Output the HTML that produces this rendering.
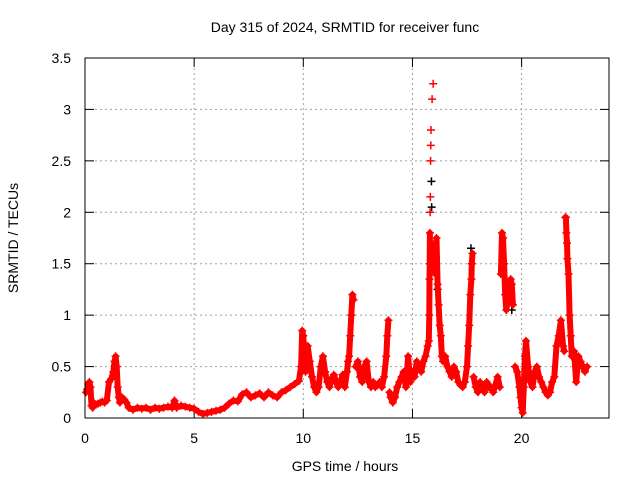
<!DOCTYPE html>
<html><head><meta charset="utf-8"><style>
body{margin:0;background:#fff}
svg{display:block;font-family:"Liberation Sans",sans-serif;font-size:14px}
</style></head><body>
<svg id="chart" width="640" height="480" viewBox="0 0 640 480">
<text x="345" y="32" text-anchor="middle">Day 315 of 2024, SRMTID for receiver func</text>
<text x="18" y="238" text-anchor="middle" transform="rotate(-90 18 238)">SRMTID / TECUs</text>
<text x="345" y="471" text-anchor="middle">GPS time / hours</text>
<g id="grid"></g>
<g id="ticks"></g>
<g id="black-series"></g>
<g id="red-series"></g>
<rect x="85" y="58" width="524" height="360" fill="none" stroke="#000" stroke-width="1"/>
</svg>
<script>
const xTicks=[0,5,10,15,20];
const yTicks=[0,0.5,1,1.5,2,2.5,3,3.5];
const yTickLabels=["0","0.5","1","1.5","2","2.5","3","3.5"];
const redT=[0.05,0.1,0.15,0.2,0.25,0.3,0.35,0.4,0.5,0.6,0.7,0.8,0.9,1.0,1.1,1.2,1.3,1.35,1.4,1.45,1.5,1.55,1.6,1.7,1.8,1.9,2.0,2.2,2.4,2.6,2.8,3.0,3.2,3.4,3.6,3.8,4.0,4.1,4.2,4.4,4.6,4.8,5.0,5.2,5.4,5.6,5.8,6.0,6.2,6.4,6.6,6.8,7.0,7.2,7.4,7.6,7.8,8.0,8.2,8.4,8.6,8.8,9.0,9.2,9.4,9.6,9.8,9.9,9.95,10.0,10.05,10.1,10.2,10.3,10.4,10.5,10.6,10.7,10.8,10.9,11.0,11.1,11.2,11.3,11.4,11.5,11.6,11.7,11.8,11.9,12.0,12.05,12.1,12.15,12.2,12.25,12.3,12.4,12.5,12.6,12.7,12.8,12.9,13.0,13.1,13.2,13.3,13.4,13.5,13.6,13.7,13.8,13.85,13.9,13.95,14.0,14.1,14.2,14.3,14.4,14.5,14.6,14.7,14.8,14.9,15.0,15.1,15.2,15.3,15.4,15.5,15.6,15.7,15.75,15.77,15.78,15.79,15.8,15.81,15.82,15.83,15.84,15.85,15.9,15.95,16.0,16.05,16.1,16.15,16.2,16.25,16.3,16.35,16.4,16.5,16.6,16.7,16.8,16.9,17.0,17.1,17.2,17.3,17.4,17.5,17.55,17.6,17.65,17.7,17.72,17.75,17.8,17.9,18.0,18.1,18.2,18.3,18.4,18.5,18.6,18.7,18.8,18.9,19.0,19.05,19.1,19.15,19.2,19.25,19.3,19.4,19.5,19.55,19.6,19.7,19.8,19.9,19.95,20.0,20.05,20.1,20.15,20.2,20.3,20.4,20.5,20.6,20.7,20.8,20.9,21.0,21.1,21.2,21.3,21.4,21.5,21.6,21.7,21.8,21.9,21.95,22.0,22.03,22.05,22.08,22.1,22.15,22.2,22.25,22.3,22.4,22.5,22.6,22.7,22.8,22.9,23.0];
const redV=[0.25,0.28,0.33,0.35,0.3,0.12,0.1,0.15,0.13,0.14,0.15,0.16,0.15,0.17,0.35,0.38,0.45,0.55,0.6,0.5,0.3,0.2,0.15,0.2,0.18,0.15,0.1,0.08,0.1,0.09,0.1,0.08,0.1,0.09,0.1,0.11,0.1,0.17,0.1,0.12,0.11,0.1,0.09,0.06,0.04,0.05,0.06,0.07,0.08,0.1,0.14,0.17,0.16,0.23,0.25,0.2,0.22,0.24,0.2,0.25,0.22,0.2,0.25,0.27,0.3,0.33,0.36,0.5,0.85,0.8,0.6,0.45,0.7,0.55,0.4,0.3,0.25,0.3,0.5,0.6,0.45,0.35,0.3,0.38,0.42,0.35,0.3,0.35,0.42,0.3,0.45,0.55,0.6,0.8,1.0,1.2,1.15,0.5,0.55,0.4,0.35,0.5,0.55,0.35,0.3,0.35,0.3,0.32,0.35,0.3,0.4,0.6,0.8,0.95,0.25,0.2,0.15,0.2,0.3,0.35,0.4,0.45,0.3,0.6,0.35,0.45,0.4,0.55,0.5,0.45,0.55,0.6,0.7,0.75,1.0,1.35,1.5,1.8,2.0,2.15,2.5,2.65,2.8,3.1,3.25,1.7,1.4,1.75,1.3,1.1,0.9,0.8,0.6,0.55,0.6,0.5,0.45,0.4,0.5,0.45,0.35,0.32,0.3,0.35,0.5,0.7,0.9,1.2,1.35,1.5,1.6,0.4,0.3,0.25,0.35,0.3,0.25,0.35,0.3,0.3,0.25,0.32,0.4,0.3,1.4,1.8,1.75,1.5,1.2,1.05,1.2,1.35,1.3,1.1,0.5,0.45,0.3,0.2,0.1,0.05,0.3,0.6,0.75,0.5,0.35,0.3,0.45,0.5,0.4,0.35,0.3,0.25,0.22,0.25,0.35,0.4,0.7,0.8,0.95,0.7,0.65,1.95,1.95,1.8,1.7,1.55,1.4,1.0,0.8,0.6,0.65,0.35,0.6,0.55,0.5,0.45,0.5,0.45];
const blackT=[15.87,15.88,16.15,17.68,19.55];
const blackV=[2.3,2.05,1.25,1.65,1.05];
const NS="http://www.w3.org/2000/svg";
const X=h=>85+h*21.83, Y=v=>418-v*102.86;
function mk(tag,attrs,parent){const e=document.createElementNS(NS,tag);for(const k in attrs)e.setAttribute(k,attrs[k]);parent.appendChild(e);return e;}
const grid=document.getElementById('grid'),ticks=document.getElementById('ticks'),svg=document.getElementById('chart');
xTicks.forEach(t=>{const x=X(t);
 if(t>0){const g=mk('line',{x1:x,y1:58,x2:x,y2:418,stroke:'#a0a0a0','stroke-dasharray':'2,3'},grid);
 
 }
 mk('line',{x1:x,y1:418,x2:x,y2:409,stroke:'#000'},ticks);mk('line',{x1:x,y1:58,x2:x,y2:67,stroke:'#000'},ticks);
 const l=mk('text',{x:x,y:443,'text-anchor':'middle'},svg);l.textContent=t;
 
 });
yTicks.forEach((v,i)=>{const y=Y(v);
 if(v>0&&v<3.5){const g=mk('line',{x1:85,y1:y,x2:609,y2:y,stroke:'#a0a0a0','stroke-dasharray':'2,3'},grid);
 
 }
 mk('line',{x1:85,y1:y,x2:94,y2:y,stroke:'#000'},ticks);mk('line',{x1:609,y1:y,x2:600,y2:y,stroke:'#000'},ticks);
 const l=mk('text',{x:71,y:y+5,'text-anchor':'end'},svg);l.textContent=yTickLabels[i];
 
 });
function plot(ts,vs,col,gid,name,band){const g=document.getElementById(gid);
 if(band){let d='';
  ts.forEach((t,i)=>{const sparse=vs[i]>1.8&&i>0&&Math.abs(vs[i]-vs[i-1])>0.1;
   const brk=i===0||sparse||Math.abs(Y(vs[i])-Y(vs[i-1]))>60;
   d+=(brk?'M':'L')+X(t).toFixed(1)+','+Y(vs[i]).toFixed(1);});
  const b=mk('path',{d:d,stroke:col,'stroke-width':6,'stroke-linejoin':'round','stroke-linecap':'round',fill:'none'},g);
  
  }
 ts.forEach((t,i)=>{const x=X(t),y=Y(vs[i]);
  const p=mk('path',{d:`M${x-4},${y}h8M${x},${y-4}v8`,stroke:col,'stroke-width':1.5,fill:'none'},g);
  
  });}
plot(blackT,blackV,'#000','black-series','black-point',false);
plot(redT,redV,'#f00','red-series','red-point',true);
</script>
</body></html>
